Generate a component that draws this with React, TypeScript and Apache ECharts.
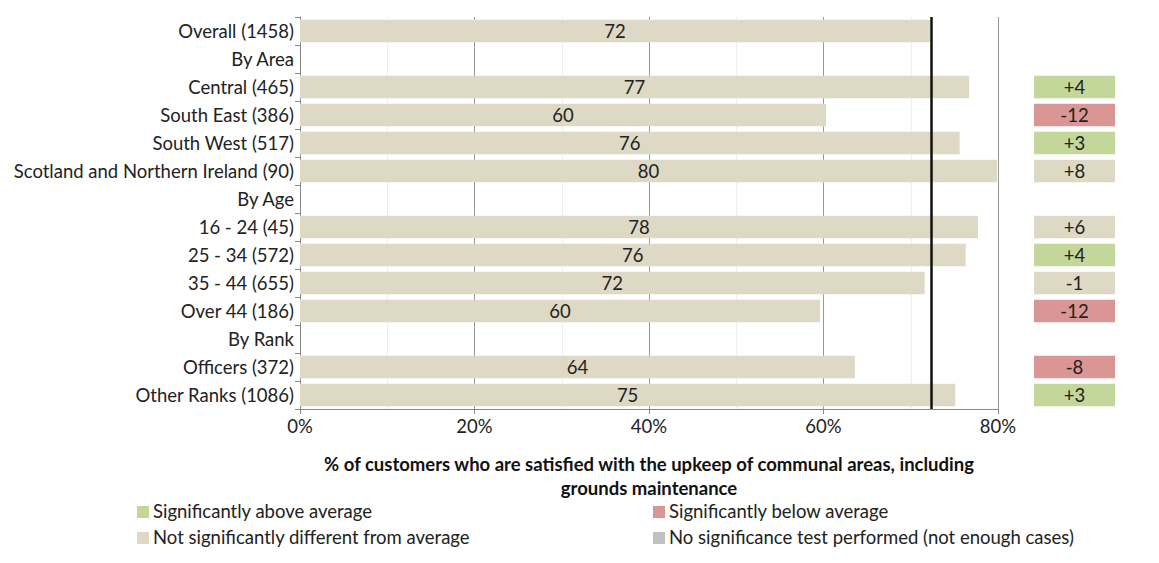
import React, { useEffect, useRef } from "react";
import * as echarts from "echarts";

const categories = [
  "Overall (1458)",
  "By Area",
  "Central (465)",
  "South East (386)",
  "South West (517)",
  "Scotland and Northern Ireland (90)",
  "By Age",
  "16 - 24 (45)",
  "25 - 34 (572)",
  "35 - 44 (655)",
  "Over 44 (186)",
  "By Rank",
  "Officers (372)",
  "Other Ranks (1086)",
];
const satisfied: (number | null)[] = [72.2, null, 76.7, 60.3, 75.6, 79.9, null, 77.7, 76.3, 71.6, 59.6, null, 63.6, 75.1];
const diffLabels: (string | null)[] = [null, null, "+4", "-12", "+3", "+8", null, "+6", "+4", "-1", "-12", null, "-8", "+3"];
// a = above, b = below, n = not significant
const significance: (string | null)[] = [null, null, "a", "b", "a", "n", null, "n", "a", "n", "b", null, "b", "a"];
const averageValue = 72.3;
const xTicks = [0, 20, 40, 60, 80];
const legendItems = [
  { key: "a", label: "Significantly above average" },
  { key: "b", label: "Significantly below average" },
  { key: "n", label: "Not significantly different from average" },
  { key: "x", label: "No significance test performed (not enough cases)" },
];

const colors: Record<string, string> = {
  a: "#c4d79b",
  b: "#da9694",
  n: "#ddd9c4",
  x: "#c0c0c0",
};
const FONT = "Lato";
const FS = 18.5;

export default function App() {
  const ref = useRef<HTMLDivElement>(null);
  useEffect(() => {
    if (!ref.current) return;
    const chart = echarts.init(ref.current, undefined, { renderer: "svg" });
    const gridTop = 17;
    const gridHeight = 392;
    const legendPos = [
      { x: 137, y: 511 },
      { x: 653, y: 511 },
      { x: 137, y: 537 },
      { x: 653, y: 537 },
    ];
    chart.setOption({
      animation: false,
      textStyle: { fontFamily: FONT },
      grid: [
        { left: 300, width: 698, top: gridTop, height: gridHeight },
        { left: 1034, width: 81, top: gridTop, height: gridHeight },
      ],
      xAxis: [
        {
          gridIndex: 0,
          type: "value",
          min: 0,
          max: 80,
          interval: 20,
          axisLine: { show: true, lineStyle: { color: "#888", width: 1 } },
          axisTick: { show: true, length: 5, lineStyle: { color: "#888" } },
          axisLabel: {
            formatter: (v: number) => (xTicks.includes(v) ? v + "%" : ""),
            color: "#222",
            fontSize: FS,
            fontFamily: FONT,
            margin: 7,
          },
          splitLine: { show: true, lineStyle: { color: "#999", width: 1 } },
          minorTick: { show: false, splitNumber: 2 },
          minorSplitLine: { show: true, lineStyle: { color: "#eeeeee", width: 1 } },
          name: "% of customers who are satisfied with the upkeep of communal areas, including\ngrounds maintenance",
          nameLocation: "middle",
          nameGap: 43,
          nameTextStyle: {
            fontWeight: "bold",
            fontSize: FS,
            color: "#111",
            fontFamily: FONT,
            lineHeight: 24,
            verticalAlign: "top",
          },
        },
        { gridIndex: 1, type: "value", min: 0, max: 1, show: false },
      ],
      yAxis: [
        {
          gridIndex: 0,
          type: "category",
          data: categories,
          inverse: true,
          axisLine: { show: true, lineStyle: { color: "#888" } },
          axisTick: { show: true, length: 5, lineStyle: { color: "#888" } },
          axisLabel: { color: "#222", fontSize: FS, fontFamily: FONT, margin: 6 },
        },
        { gridIndex: 1, type: "category", data: categories, inverse: true, show: false },
      ],
      series: [
        {
          type: "bar",
          xAxisIndex: 0,
          yAxisIndex: 0,
          data: satisfied,
          barCategoryGap: "20%",
          itemStyle: { color: colors.n },
          label: {
            show: true,
            position: "inside",
            formatter: (p: any) => String(Math.round(p.value)),
            color: "#222",
            fontSize: FS,
            fontFamily: FONT,
          },
          markLine: {
            silent: true,
            symbol: "none",
            label: { show: false },
            lineStyle: { color: "#111", width: 2.5, type: "solid" },
            data: [{ xAxis: averageValue }],
          },
        },
        {
          type: "bar",
          xAxisIndex: 1,
          yAxisIndex: 1,
          barCategoryGap: "20%",
          data: diffLabels.map((d, i) =>
            d === null
              ? null
              : { value: 1, label: d, itemStyle: { color: colors[significance[i] as string] } }
          ),
          label: {
            show: true,
            position: "inside",
            formatter: (p: any) => (p.data && p.data.label) || "",
            color: "#222",
            fontSize: FS,
            fontFamily: FONT,
          },
        },
      ],
      graphic: legendItems.flatMap((it, i) => [
        {
          type: "rect",
          shape: { x: legendPos[i].x, y: legendPos[i].y - 5, width: 12, height: 12 },
          style: { fill: colors[it.key] },
        },
        {
          type: "text",
          x: legendPos[i].x + 16,
          y: legendPos[i].y,
          style: {
            text: it.label,
            fontSize: FS,
            fontFamily: FONT,
            fill: "#222",
            verticalAlign: "middle",
          },
        },
      ]),
    });
    return () => chart.dispose();
  }, []);
  return (
    <div
      ref={ref}
      style={{ position: "fixed", left: 0, top: 0, width: 1159, height: 563, background: "#fff" }}
    />
  );
}
